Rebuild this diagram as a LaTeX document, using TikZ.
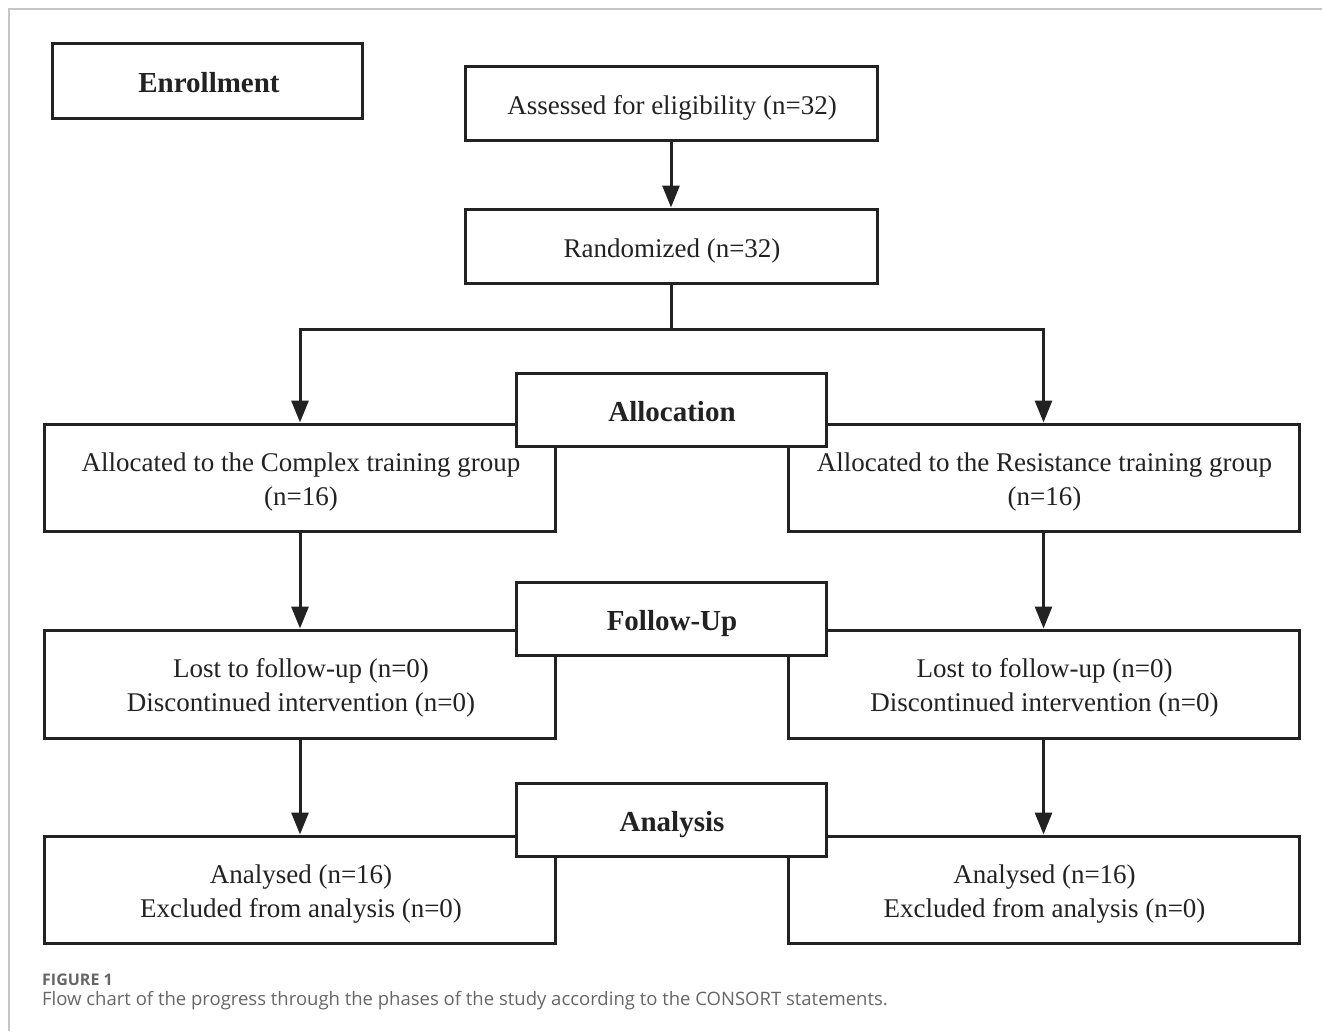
\documentclass[tikz,border=0pt]{standalone}
\usepackage{fontspec}
\setmainfont{Liberation Serif}
\newfontfamily\capfont{Open Sans}
\usetikzlibrary{arrows.meta}
\definecolor{ink}{HTML}{222222}
\definecolor{capgray}{HTML}{666666}
\tikzset{
  box/.style={draw=ink, line width=3pt, fill=white, inner sep=0pt},
  phase/.style={box, minimum width=310pt, minimum height=73pt},
  sidebox/.style={box, minimum width=511pt, minimum height=107pt},
  topbox/.style={box, minimum width=412pt, minimum height=74pt},
  txt/.style={anchor=base, inner sep=0pt, text=ink, font=\fontsize{27}{30}\selectfont},
  ptxt/.style={anchor=base, inner sep=0pt, text=ink, font=\bfseries\fontsize{29}{32}\selectfont},
  arr/.style={draw=ink, line width=3pt, -{Triangle[length=22pt,width=17pt]}},
  ln/.style={draw=ink, line width=3pt}
}
\begin{document}
\begin{tikzpicture}[x=1pt,y=-1pt]
\useasboundingbox (0,0) rectangle (1322,1031);
\draw[gray!45, line width=1.5pt] (1322,9) coordinate (fa) -- (9,9) coordinate (fb) -- (9,1031) coordinate (fc);

% top boxes
\node[phase, minimum height=75pt] (enroll) at (207,80.5) {};
\node[ptxt] (enrollt) at (209,92) {Enrollment};
\node[topbox] (assess) at (671,103) {};
\node[txt] (assesst) at (672,114) {Assessed for eligibility (n=32)};
\node[topbox] (random) at (671,246) {};
\node[txt] (randomt) at (672,257) {Randomized (n=32)};

% side boxes
\node[sidebox] (cl) at (300,477.5) {};
\node[sidebox] (cr) at (1043.5,477.5) {};
\node[sidebox, minimum height=108pt] (ll) at (300,684) {};
\node[sidebox, minimum height=108pt] (lr) at (1043.5,684) {};
\node[sidebox] (al) at (300,889.5) {};
\node[sidebox] (ar) at (1043.5,889.5) {};

\node[txt] (cl1) at (301,471) {Allocated to the Complex training group};
\node[txt] (cl2) at (301,505) {(n=16)};
\node[txt] (cr1) at (1044.5,471) {Allocated to the Resistance training group};
\node[txt] (cr2) at (1044.5,505) {(n=16)};
\node[txt] (ll1) at (301,677.5) {Lost to follow-up (n=0)};
\node[txt] (ll2) at (301,711.5) {Discontinued intervention (n=0)};
\node[txt] (lr1) at (1044.5,677.5) {Lost to follow-up (n=0)};
\node[txt] (lr2) at (1044.5,711.5) {Discontinued intervention (n=0)};
\node[txt] (al1) at (301,883) {Analysed (n=16)};
\node[txt] (al2) at (301,917) {Excluded from analysis (n=0)};
\node[txt] (ar1) at (1044.5,883) {Analysed (n=16)};
\node[txt] (ar2) at (1044.5,917) {Excluded from analysis (n=0)};

% phase boxes
\node[phase] (alloc) at (671,409.5) {};
\node[ptxt] (alloct) at (672,421.5) {Allocation};
\node[phase] (follow) at (671,618.5) {};
\node[ptxt] (followt) at (672,630.5) {Follow-Up};
\node[phase] (analysis) at (671,819.5) {};
\node[ptxt] (analysist) at (672,831.5) {Analysis};

% connectors
\draw[arr] (assess) -- (random);
\coordinate (split) at (671,329);
\draw[ln] (random.south) -- (split);
\draw[arr] (split) -| (cl.north);
\draw[arr] (split) -| (cr.north);
\draw[arr] (cl) -- (ll);
\draw[arr] (cr) -- (lr);
\draw[arr] (ll) -- (al);
\draw[arr] (lr) -- (ar);

% caption
\node[anchor=base west, inner sep=0pt, text=capgray, font=\capfont\bfseries\fontsize{16}{18}\selectfont] (fig) at (42,985.5) {FIGURE 1};
\node[anchor=base west, inner sep=0pt, text=capgray, font=\capfont\fontsize{18.5}{21}\selectfont] (cap) at (42,1005) {Flow chart of the progress through the phases of the study according to the CONSORT statements.};
\end{tikzpicture}
\end{document}
